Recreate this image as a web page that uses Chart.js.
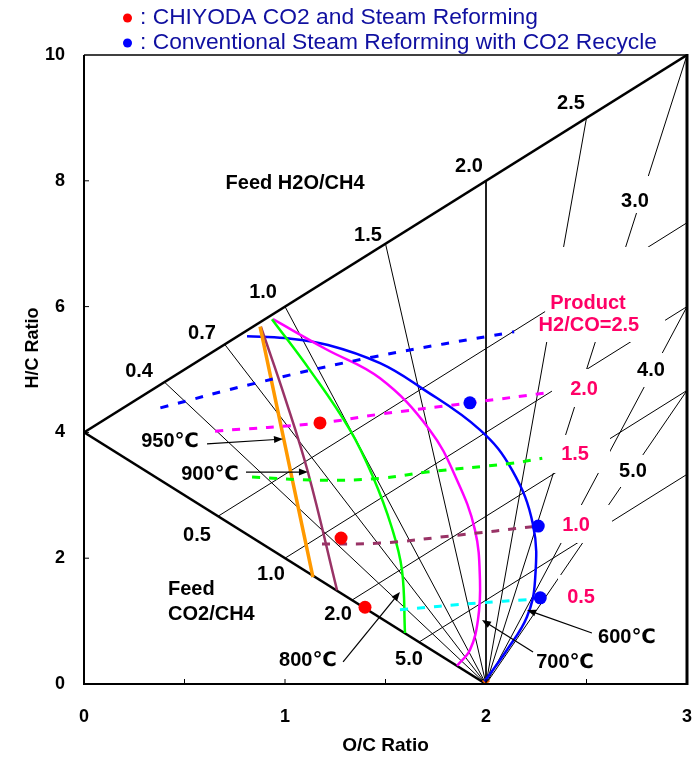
<!DOCTYPE html>
<html><head><meta charset="utf-8">
<script src="https://cdn.jsdelivr.net/npm/chart.js@4.4.0/dist/chart.umd.min.js"></script>
<style>html,body{margin:0;padding:0;background:#fff;}canvas{display:block;}</style>
</head><body>
<canvas id="c" width="695" height="762" style="width:695px;height:762px"></canvas>
<script>
// ---------- DATA (O/C ratio, H/C ratio) ----------
const xTickLabels = ['0', '1', '2', '3'];
const yTickLabels = ['0', '2', '4', '6', '8', '10'];

// triangle edges (pure CH4 at apex)
const ch4Point = [0, 4];
const h2oEdgeEnd = [3, 10];
const co2EdgeEnd = [2, 0];

// constant feed H2O/CH4 lines: start on upper edge (or right border), converge at (2,0)
const h2oRatioLabels = ['0.4', '0.7', '1.0', '1.5', '2.0', '2.5', '3.0', '4.0', '5.0'];
const h2oLineStart = [[0.4, 4.8], [0.7, 5.4], [1.0, 6.0], [1.5, 7.0], [2.0, 8.0], [2.5, 9.0], [3.0, 10.0], [3.0, 6.0], [3.0, 4.667]];
const fanFocus = [2, 0];

// constant feed CO2/CH4 lines: start on lower edge, run to right border
const co2RatioLabels = ['0.5', '1.0', '2.0', '5.0'];
const co2LineStart = [[0.667, 2.667], [1.0, 2.0], [1.333, 1.333], [1.667, 0.667]];
const co2LineEnd = [[3.0, 7.333], [3.0, 6.0], [3.0, 4.667], [3.0, 3.333]];

// isotherms
const iso950 = [[0.876, 5.68], [0.996, 3.86], [1.139, 1.70]];
const iso900 = [[0.88, 5.68], [1.0, 4.55], [1.114, 3.37], [1.259, 1.49]];
const iso800 = [[0.935, 5.80], [1.124, 4.99], [1.323, 4.04], [1.438, 3.29], [1.53, 2.5], [1.582, 1.81], [1.597, 0.81]];
const iso700 = [[0.94, 5.80], [1.20, 5.33], [1.473, 4.86], [1.72, 4.04], [1.856, 3.24], [1.945, 2.45], [1.97, 1.65], [1.96, 1.02], [1.92, 0.54], [1.856, 0.29]];
const iso600 = [[0.811, 5.53], [1.0, 5.50], [1.214, 5.39], [1.473, 5.10], [1.672, 4.72], [1.97, 4.04], [2.13, 3.40], [2.234, 2.53], [2.244, 1.65], [2.204, 1.07], [2.104, 0.54], [1.99, 0.03]];

// product H2/CO lines
const h2co25 = [[0.38, 4.39], [0.85, 4.78], [1.44, 5.20], [2.14, 5.60]];
const h2co20 = [[0.652, 4.02], [1.174, 4.15], [1.473, 4.29], [1.92, 4.47], [2.328, 4.64]];
const h2co15 = [[0.836, 3.29], [1.174, 3.24], [1.473, 3.27], [1.706, 3.37], [2.13, 3.51], [2.28, 3.59]];
const h2co10 = [[1.184, 2.226], [1.473, 2.24], [1.87, 2.37], [2.23, 2.50]];
const h2co05 = [[1.572, 1.18], [1.97, 1.29], [2.204, 1.34]];

// operating points
const chiyodaPoints = [[1.174, 4.15], [1.279, 2.32], [1.398, 1.22]];
const conventionalPoints = [[1.92, 4.47], [2.26, 2.51], [2.27, 1.37]];
const carbonLimit = [[2, 0]];

// ---------- ANNOTATIONS (data coords) ----------
const PINK = '#FF0066';
const annotations = [
  { t: 'Feed H2O/CH4', x: 1.050, y: 7.965 },
  { t: '2.5', x: 2.423, y: 9.237 }, { t: '2.0', x: 1.915, y: 8.235 }, { t: '1.5', x: 1.413, y: 7.138 },
  { t: '1.0', x: 0.891, y: 6.232 }, { t: '0.7', x: 0.587, y: 5.580 }, { t: '0.4', x: 0.274, y: 4.976 },
  { t: '3.0', x: 2.741, y: 7.679, box: [2.627, 8.076, 2.866, 7.488] },
  { t: '4.0', x: 2.821, y: 4.992, box: [2.716, 5.262, 2.965, 4.722] },
  { t: '5.0', x: 2.731, y: 3.386, box: [2.627, 3.641, 2.876, 3.132] },
  { t: '0.5', x: 0.562, y: 2.369 }, { t: '1.0', x: 0.930, y: 1.749 }, { t: '2.0', x: 1.264, y: 1.113 }, { t: '5.0', x: 1.617, y: 0.397 },
  { t: 'Feed', x: 0.418, y: 1.510, align: 'left' }, { t: 'CO2/CH4', x: 0.418, y: 1.113, align: 'left' },
  { t: '950\u2103', x: 0.428, y: 3.863 }, { t: '900\u2103', x: 0.627, y: 3.323 },
  { t: '800\u2103', x: 1.114, y: 0.366 }, { t: '700\u2103', x: 2.393, y: 0.350 }, { t: '600\u2103', x: 2.701, y: 0.747 },
  { t: 'Product', x: 2.507, y: 6.057, c: PINK, box: [2.294, 6.948, 2.891, 5.437] },
  { t: 'H2/CO=2.5', x: 2.512, y: 5.692, c: PINK },
  { t: '2.0', x: 2.488, y: 4.690, c: PINK, box: [2.328, 5.008, 2.627, 4.404] },
  { t: '1.5', x: 2.443, y: 3.641, c: PINK, box: [2.308, 3.959, 2.617, 3.355] },
  { t: '1.0', x: 2.448, y: 2.528, c: PINK, box: [2.343, 2.846, 2.627, 2.242] },
  { t: '0.5', x: 2.473, y: 1.383, c: PINK, box: [2.358, 1.733, 2.592, 1.097] }
];
const arrows = [
  [[0.612, 3.816], [0.990, 3.895]],
  [[0.806, 3.370], [1.114, 3.370]],
  [[1.289, 0.350], [1.572, 1.463]],
  [[2.234, 0.509], [1.980, 1.017]],
  [[2.527, 0.810], [2.204, 1.176]]
];
const legendItems = [
  { color: '#FF0000', text: ': CHIYODA CO2 and Steam Reforming' },
  { color: '#0000FF', text: ': Conventional Steam Reforming with CO2 Recycle' }
];

// ---------- BUILD ----------
const FONT = "'Liberation Sans', Arial, 'DejaVu Sans', sans-serif";
const pts = a => a.map(p => ({ x: p[0], y: p[1] }));
const seg = (a, b, w) => ({ data: pts([a, b]), showLine: true, borderColor: '#000', borderWidth: w, pointRadius: 0, order: 5 });
const curve = (a, color, w, dash) => ({ data: pts(a), showLine: true, tension: 0.4, borderColor: color, borderWidth: w, borderDash: dash || [], pointRadius: 0, order: 2 });

const datasets = [];
h2oLineStart.forEach(p => datasets.push(seg(p, fanFocus, 1)));
co2LineStart.forEach((p, i) => datasets.push(seg(p, co2LineEnd[i], 1)));
datasets.push(seg(ch4Point, h2oEdgeEnd, 2.5));
datasets.push(seg(ch4Point, co2EdgeEnd, 2.5));
datasets.push(curve(h2co25, '#0000FF', 3, [8, 10]));
datasets.push(curve(h2co20, '#FF00FF', 3, [8, 9]));
datasets.push(curve(h2co15, '#00FF00', 3, [8, 9]));
datasets.push(curve(h2co10, '#993366', 3, [8, 9]));
datasets.push(curve(h2co05, '#00FFFF', 3, [8, 9]));
datasets.push(curve(iso950, '#FF9900', 3.5));
datasets.push(curve(iso900, '#993366', 2.5));
datasets.push(curve(iso800, '#00FF00', 2.5));
datasets.push(curve(iso700, '#FF00FF', 2.5));
datasets.push(curve(iso600, '#0000FF', 2.5));
datasets.push({ data: pts(chiyodaPoints), pointRadius: 6.5, backgroundColor: '#FF0000', borderWidth: 0, order: 0 });
datasets.push({ data: pts(conventionalPoints), pointRadius: 6.5, backgroundColor: '#0000FF', borderWidth: 0, order: 0 });
datasets.push({ data: pts(carbonLimit), pointStyle: 'crossRot', pointRadius: 5, borderColor: '#FF6600', borderWidth: 1.5, order: 0 });

const overlay = {
  id: 'overlay',
  afterDatasetsDraw(chart) {
    const { ctx, chartArea: a, scales: { x, y } } = chart;
    const X = v => x.getPixelForValue(v), Y = v => y.getPixelForValue(v);
    ctx.save();
    // label boxes (white, hide grid lines)
    ctx.fillStyle = '#fff';
    annotations.forEach(n => {
      if (!n.box) return;
      const [x1, y1, x2, y2] = n.box;
      ctx.fillRect(X(x1), Y(y1), X(x2) - X(x1), Y(y2) - Y(y1));
    });
    // arrows
    ctx.strokeStyle = '#000'; ctx.fillStyle = '#000'; ctx.lineWidth = 1.2;
    arrows.forEach(([p, q]) => {
      const x1 = X(p[0]), y1 = Y(p[1]), x2 = X(q[0]), y2 = Y(q[1]);
      const ang = Math.atan2(y2 - y1, x2 - x1), L = 9, W = 3.5;
      ctx.beginPath(); ctx.moveTo(x1, y1); ctx.lineTo(x2 - L * 0.8 * Math.cos(ang), y2 - L * 0.8 * Math.sin(ang)); ctx.stroke();
      ctx.beginPath(); ctx.moveTo(x2, y2);
      ctx.lineTo(x2 - L * Math.cos(ang) + W * Math.sin(ang), y2 - L * Math.sin(ang) - W * Math.cos(ang));
      ctx.lineTo(x2 - L * Math.cos(ang) - W * Math.sin(ang), y2 - L * Math.sin(ang) + W * Math.cos(ang));
      ctx.closePath(); ctx.fill();
    });
    // text labels
    ctx.textBaseline = 'middle';
    annotations.forEach(n => {
      ctx.font = 'bold 20px ' + FONT;
      ctx.fillStyle = n.c || '#000';
      ctx.textAlign = n.align || 'center';
      ctx.fillText(n.t, X(n.x), Y(n.y));
    });
    // frame
    ctx.strokeStyle = '#000';
    ctx.lineWidth = 1.5;
    ctx.beginPath(); ctx.moveTo(a.left, a.top); ctx.lineTo(a.right, a.top); ctx.stroke();
    ctx.lineWidth = 2;
    ctx.beginPath(); ctx.moveTo(a.left, a.top); ctx.lineTo(a.left, a.bottom); ctx.lineTo(a.right, a.bottom); ctx.stroke();
    ctx.lineWidth = 3;
    ctx.beginPath(); ctx.moveTo(a.right, a.top - 1); ctx.lineTo(a.right, a.bottom + 1); ctx.stroke();
    // inner tick marks
    ctx.lineWidth = 1;
    x.ticks.forEach(t => { if (t.value > 0 && t.value < 3) { const px = X(t.value); ctx.beginPath(); ctx.moveTo(px, a.bottom); ctx.lineTo(px, a.bottom - 5); ctx.stroke(); } });
    y.ticks.forEach(t => { if (t.value > 0 && t.value < 10) { const py = Y(t.value); ctx.beginPath(); ctx.moveTo(a.left, py); ctx.lineTo(a.left + 5, py); ctx.stroke(); } });
    // axis titles
    ctx.fillStyle = '#000'; ctx.textAlign = 'center'; ctx.textBaseline = 'middle';
    ctx.font = 'bold 19px ' + FONT;
    ctx.fillText('O/C Ratio', (a.left + a.right) / 2, a.bottom + 62);
    ctx.save(); ctx.translate(a.left - 51, a.top + 293); ctx.rotate(-Math.PI / 2);
    ctx.font = 'bold 18px ' + FONT; ctx.fillText('H/C Ratio', 0, 0); ctx.restore();
    // legend
    ctx.textAlign = 'left';
    ctx.font = '22.8px ' + FONT;
    legendItems.forEach((it, i) => {
      const cy = 18 + i * 25;
      ctx.fillStyle = it.color; ctx.beginPath(); ctx.arc(a.left + 43.5, cy, 4.5, 0, Math.PI * 2); ctx.fill();
      ctx.fillStyle = '#1010A0'; ctx.fillText(it.text, a.left + 56, cy);
    });
    ctx.restore();
  }
};

new Chart(document.getElementById('c'), {
  type: 'scatter',
  data: { datasets },
  options: {
    responsive: false, animation: false, devicePixelRatio: 1,
    layout: { padding: { top: 55, right: 8, left: 0, bottom: 0 } },
    plugins: { legend: { display: false }, tooltip: { enabled: false } },
    scales: {
      x: {
        type: 'linear', min: 0, max: 3,
        afterFit(s) { s.height = 78; s.paddingLeft = 0; s.paddingRight = 0; },
        grid: { display: false, drawTicks: false }, border: { display: false },
        ticks: { stepSize: 0.5, padding: 22, autoSkip: false, maxRotation: 0, color: '#000',
          font: { family: FONT, size: 18, weight: 'bold' },
          callback: v => Number.isInteger(v) ? xTickLabels[v] : '' }
      },
      y: {
        type: 'linear', min: 0, max: 10,
        afterFit(s) { s.width = 84; s.paddingTop = 0; s.paddingBottom = 0; },
        grid: { display: false, drawTicks: false }, border: { display: false },
        ticks: { stepSize: 2, padding: 19, color: '#000',
          font: { family: FONT, size: 18, weight: 'bold' },
          callback: v => yTickLabels[v / 2] }
      }
    }
  },
  plugins: [overlay]
});
</script>
</body></html>
